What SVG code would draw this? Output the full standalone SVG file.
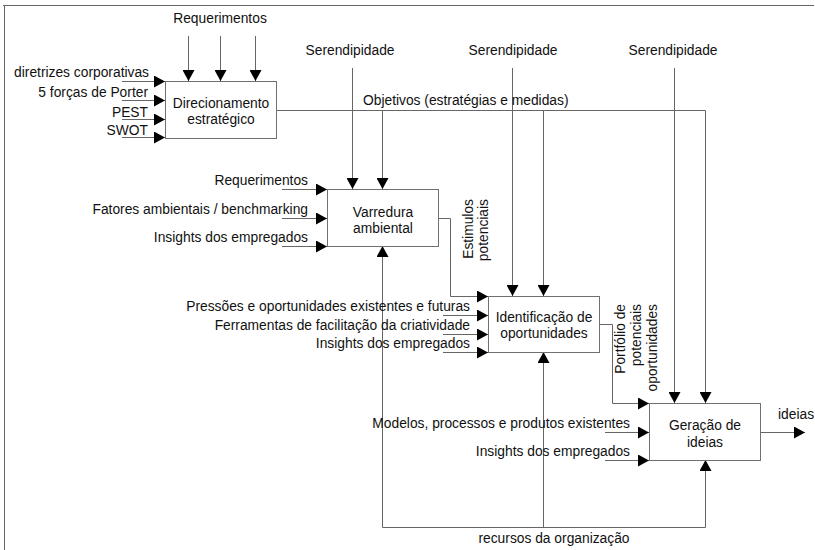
<svg xmlns="http://www.w3.org/2000/svg" width="815" height="550" viewBox="0 0 815 550">
<style>
text{font-family:"Liberation Sans",Arial,sans-serif;font-size:13.8px;fill:#111}
.e{text-anchor:end}
.m{text-anchor:middle}
.box{fill:#fff;stroke:#707070;stroke-width:1}
.ln{fill:none;stroke:#666;stroke-width:1}
.a{marker-end:url(#ah)}
</style>
<defs>
<marker id="ah" markerWidth="11" markerHeight="12" refX="11" refY="6" orient="auto" markerUnits="userSpaceOnUse">
<path d="M0,0 L11,6 L0,12 z" fill="#000"/>
</marker>
</defs>
<rect width="815" height="550" fill="#fff"/>
<g id="frame">
<path class="ln" d="M3,5.5 H814 M4.5,5 V550"/>
</g>
<g id="connectors">
<path class="ln a" d="M188.5,36 V81"/>
<path class="ln a" d="M220.5,36 V81"/>
<path class="ln a" d="M255.5,36 V81"/>
<path class="ln a" d="M122,81.5 H165"/>
<path class="ln a" d="M122,100.5 H165"/>
<path class="ln a" d="M122,119.5 H165"/>
<path class="ln a" d="M122,137.5 H165"/>
<path class="ln a" d="M276,110.5 H705.5 V403"/>
<path class="ln a" d="M382.5,110.5 V189"/>
<path class="ln a" d="M543.5,110.5 V296"/>
<path class="ln a" d="M352.5,68 V189"/>
<path class="ln a" d="M512.5,68 V296"/>
<path class="ln a" d="M674.5,68 V403"/>
<path class="ln a" d="M282,189.5 H327"/>
<path class="ln a" d="M282,218.5 H327"/>
<path class="ln a" d="M282,246.5 H327"/>
<path class="ln a" d="M438,218.5 H450.5 V296.5 H488"/>
<path class="ln a" d="M443,315.5 H488"/>
<path class="ln a" d="M443,334.5 H488"/>
<path class="ln a" d="M443,352.5 H488"/>
<path class="ln a" d="M599,324.5 H612.5 V403.5 H649"/>
<path class="ln a" d="M605,432.5 H649"/>
<path class="ln a" d="M605,460.5 H649"/>
<path class="ln a" d="M760,432.5 H805"/>
<path class="ln a" d="M382.5,527.5 V246"/>
<path class="ln a" d="M543.5,527.5 V352"/>
<path class="ln a" d="M382.5,527.5 H705.5 V460"/>
</g>
<g id="labels">
<text class="m" x="220" y="23">Requerimentos</text>
<text class="e" x="149" y="77">diretrizes corporativas</text>
<text class="e" x="148" y="97">5 forças de Porter</text>
<text class="e" x="148" y="117">PEST</text>
<text class="e" x="148" y="135">SWOT</text>
<text class="m" x="350" y="55">Serendipidade</text>
<text class="m" x="513" y="55">Serendipidade</text>
<text class="m" x="673" y="55">Serendipidade</text>
<text x="363" y="105">Objetivos (estratégias e medidas)</text>
<text class="e" x="308" y="185">Requerimentos</text>
<text class="e" x="308" y="214">Fatores ambientais / benchmarking</text>
<text class="e" x="308" y="242">Insights dos empregados</text>
<g transform="translate(473,199) rotate(-90)">
<text class="e" x="0" y="0">Estimulos</text>
<text class="e" x="0" y="15">potenciais</text>
</g>
<text class="e" x="470" y="311">Pressões e oportunidades existentes e futuras</text>
<text class="e" x="470" y="330">Ferramentas de facilitação da criatividade</text>
<text class="e" x="470" y="348">Insights dos empregados</text>
<g transform="translate(625,304) rotate(-90)">
<text class="e" x="0" y="0">Portfólio de</text>
<text class="e" x="0" y="16">potenciais</text>
<text class="e" x="0" y="32">oportunidades</text>
</g>
<text class="e" x="630" y="428">Modelos, processos e produtos existentes</text>
<text class="e" x="630" y="456">Insights dos empregados</text>
<text x="778" y="419">ideias</text>
<text class="m" x="554" y="543">recursos da organização</text>
</g>
<g id="node-direcionamento">
<rect class="box" x="165.5" y="81.5" width="111" height="57"/>
<text class="m" x="221" y="108">Direcionamento</text>
<text class="m" x="221" y="124">estratégico</text>
</g>
<g id="node-varredura">
<rect class="box" x="327.5" y="189.5" width="111" height="57"/>
<text class="m" x="383" y="217">Varredura</text>
<text class="m" x="383" y="233">ambiental</text>
</g>
<g id="node-identificacao">
<rect class="box" x="488.5" y="296.5" width="111" height="56"/>
<text class="m" x="544" y="322">Identificação de</text>
<text class="m" x="544" y="338">oportunidades</text>
</g>
<g id="node-geracao">
<rect class="box" x="649.5" y="403.5" width="111" height="57"/>
<text class="m" x="705" y="430">Geração de</text>
<text class="m" x="705" y="447">ideias</text>
</g>
</svg>
